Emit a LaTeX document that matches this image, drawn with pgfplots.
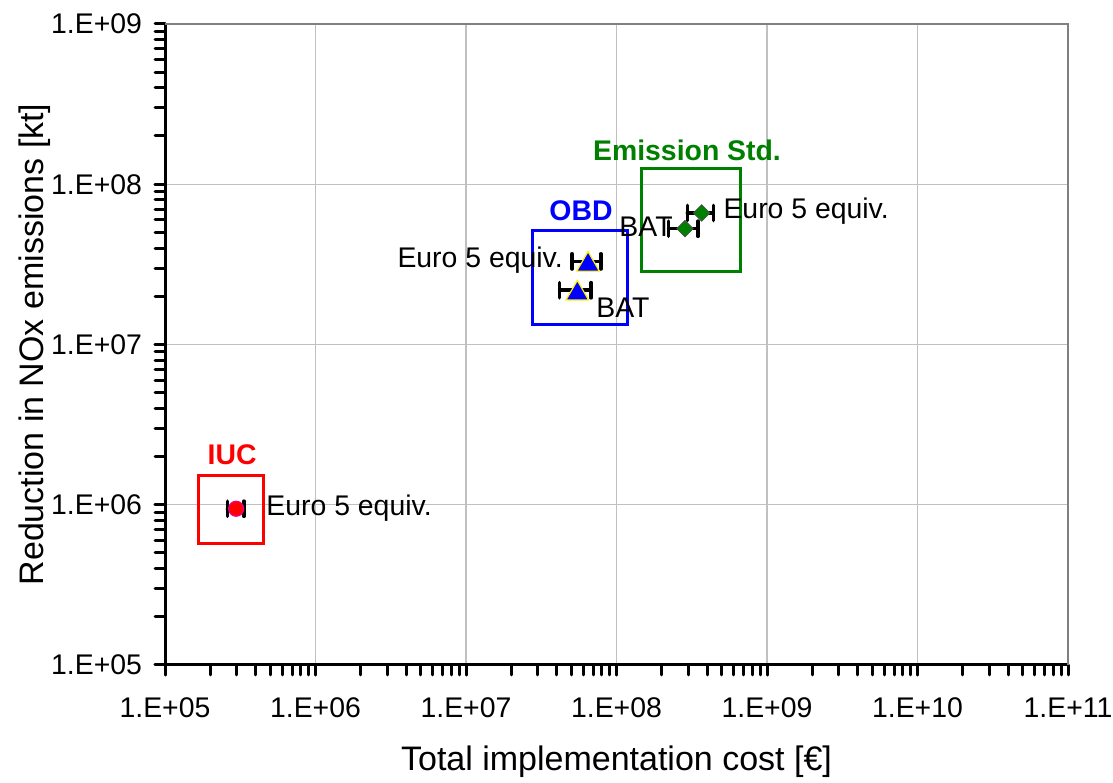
\documentclass[border=0pt]{standalone}
\usepackage{pgfplots}
\pgfplotsset{compat=1.18}
\usepackage{fontspec}
\setmainfont{Liberation Sans}
\definecolor{gridgray}{RGB}{192,192,192}
\definecolor{bordergray}{RGB}{128,128,128}
\definecolor{stdgreen}{RGB}{0,128,0}
\pgfplotsset{
  xerr/.style={error bars/.cd, x dir=both, x explicit,
    error bar style={line width=1.8pt, black, line cap=round},
    error mark=|,
    error mark options={line width=1.8pt, black, mark size=3.8pt, line cap=round}}
}
\begin{document}
\begin{tikzpicture}
\begin{axis}[
  scale only axis,
  width=451.5pt, height=320.5pt,
  xmode=log, ymode=log,
  xmin=1e5, xmax=1e11, ymin=1e5, ymax=1e9,
  axis x line*=bottom, axis y line*=left,
  axis line style={line width=1.5pt, black, -},
  tick align=outside,
  major tick length=5pt, minor tick length=5pt,
  every tick/.style={line width=1.5pt, black, line cap=round},
  grid=major,
  major grid style={line width=0.6pt, gridgray},
  minor grid style={draw=none},
  xtick={1e5,1e6,1e7,1e8,1e9,1e10,1e11},
  xticklabels={1.E+05,1.E+06,1.E+07,1.E+08,1.E+09,1.E+10,1.E+11},
  ytick={1e5,1e6,1e7,1e8,1e9},
  yticklabels={1.E+05,1.E+06,1.E+07,1.E+08,1.E+09},
  ticklabel style={font=\fontsize{14.2}{17}\selectfont},
  xticklabel style={yshift=-8pt},
  yticklabel style={xshift=-3pt},
  xlabel={Total implementation cost [€]},
  ylabel={Reduction in NOx emissions [kt]},
  label style={font=\fontsize{17}{20}\selectfont},
  xlabel style={at={(0.5,0)}, anchor=base, yshift=-53pt},
  ylabel style={at={(0,0.5)}, anchor=center, yshift=65pt},
  clip=false,
]
% boxes
\addplot[red, line width=1.5pt, mark=none] coordinates {(1.66e5,5.71e5) (4.48e5,5.71e5) (4.48e5,1.52e6) (1.66e5,1.52e6)} -- cycle;
\addplot[blue, line width=1.5pt, mark=none] coordinates {(2.75e7,1.33e7) (1.175e8,1.33e7) (1.175e8,5.16e7) (2.75e7,5.16e7)} -- cycle;
\addplot[stdgreen, line width=1.5pt, mark=none] coordinates {(1.455e8,2.86e7) (6.62e8,2.86e7) (6.62e8,1.26e8) (1.455e8,1.26e8)} -- cycle;
% IUC
\addplot[only marks, mark=*, mark size=3.75pt,
  mark options={fill=red, draw=magenta, line width=0.6pt}, xerr]
  coordinates {(2.97e5,9.44e5) +- (0.37e5,0)};
% OBD
\addplot[only marks, mark=triangle*, mark size=6.5pt,
  mark options={fill=blue, draw=yellow, line width=0.6pt, yshift=-1.6pt}, xerr]
  coordinates {(6.47e7,3.30e7) +- (1.4e7,0) (5.49e7,2.18e7) +- (1.3e7,0)};
% Emission Std
\addplot[only marks, mark=square*, mark size=2.9pt,
  mark options={fill=stdgreen, draw=black!70, line width=0.4pt, rotate=45}, xerr]
  coordinates {(3.68e8,6.62e7) +- (0.72e8,0) (2.85e8,5.28e7) +- (0.63e8,0)};
% labels
\begin{scope}[every node/.style={font=\fontsize{14.2}{17}\selectfont, inner sep=0pt}]
\node[anchor=base west] at (axis cs:4.69e5,8.54e5) {Euro 5 equiv.};
\node[anchor=base east] at (axis cs:4.42e7,3.04e7) {Euro 5 equiv.};
\node[anchor=base west] at (axis cs:7.31e7,1.48e7) {BAT};
\node[anchor=base west] at (axis cs:1.04e8,4.69e7) {BAT};
\node[anchor=base west] at (axis cs:5.11e8,6.11e7) {Euro 5 equiv.};
\node[anchor=base, text=red, font=\fontsize{14.2}{17}\selectfont\bfseries] at (axis cs:2.79e5,1.78e6) {IUC};
\node[anchor=base, text=blue, font=\fontsize{14.2}{17}\selectfont\bfseries] at (axis cs:5.81e7,5.91e7) {OBD};
\node[anchor=base, text=stdgreen, font=\fontsize{14.2}{17}\selectfont\bfseries] at (axis cs:2.94e8,1.40e8) {Emission Std.};
\end{scope}
\draw[bordergray, line width=1pt] (rel axis cs:0,1) -- (rel axis cs:1,1) -- (rel axis cs:1,0);
\end{axis}
\pgfresetboundingbox
\path (-82.5pt,-58.5pt) rectangle (474pt,332.5pt);
\end{tikzpicture}
\end{document}
